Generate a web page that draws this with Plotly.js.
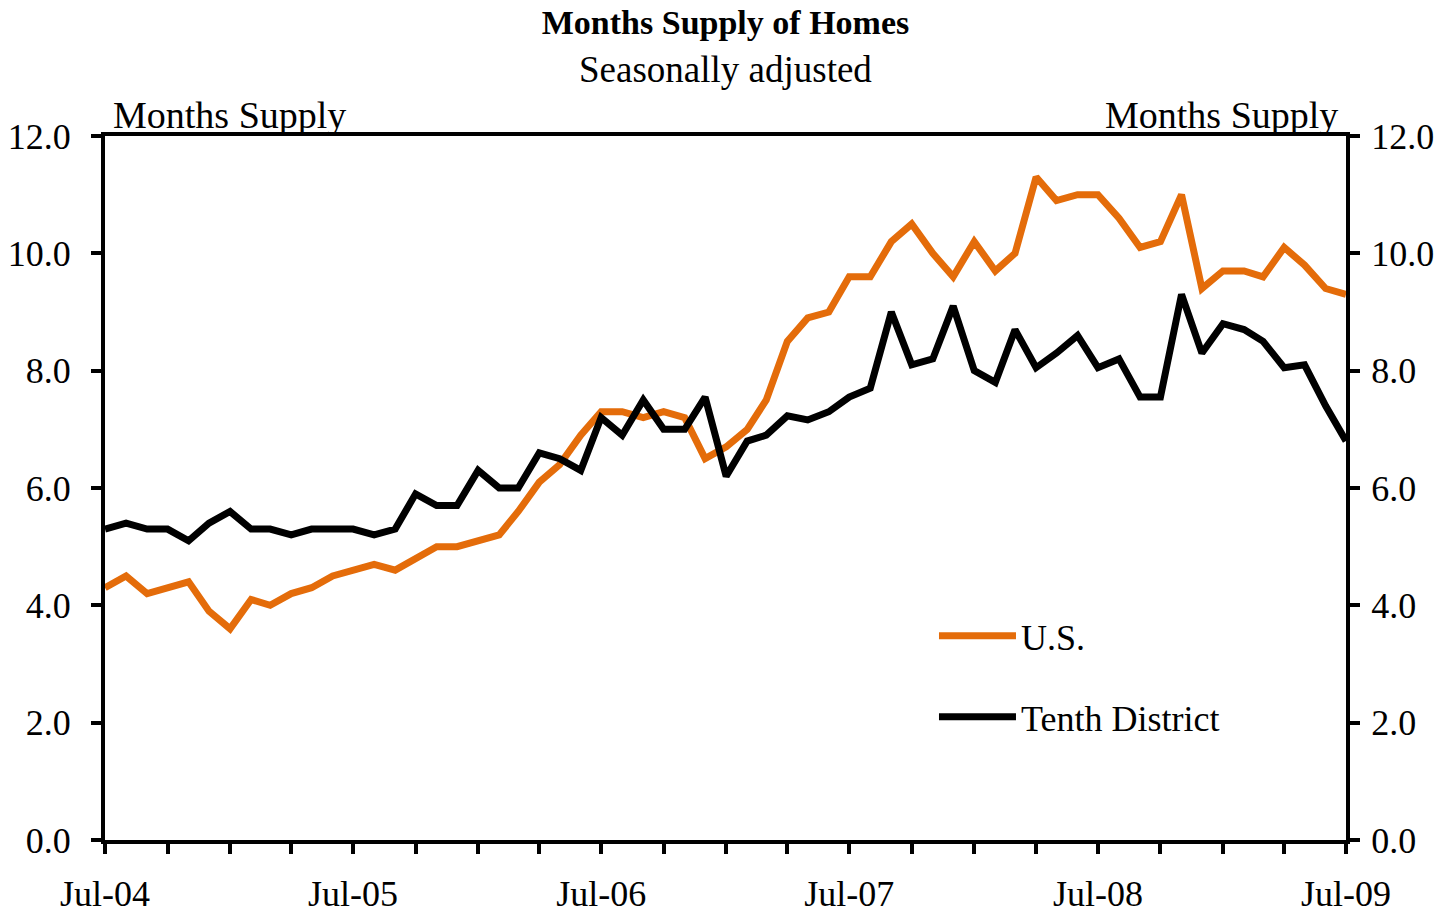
<!DOCTYPE html>
<html>
<head>
<meta charset="utf-8">
<script src="https://cdn.plot.ly/plotly-3.0.1.min.js"></script>
<style>html,body{margin:0;padding:0;background:#fff}#chart{width:1448px;height:915px}</style>
</head>
<body>
<div id="chart"></div>
<script>
// Monthly, Jul-04 .. Jul-09
const months = [];
(function(){ for (let i = 0; i <= 60; i++) { const t = 2004*12 + 6 + i; const y = Math.floor(t/12), m = t%12 + 1; months.push(y + '-' + String(m).padStart(2,'0') + '-01'); } })();

const usSupply = [4.3,4.5,4.2,4.3,4.4,3.9,3.6,4.1,4.0,4.2,4.3,4.5,4.6,4.7,4.6,4.8,5.0,5.0,5.1,5.2,5.6,6.1,6.4,6.9,7.3,7.3,7.2,7.3,7.2,6.5,6.7,7.0,7.5,8.5,8.9,9.0,9.6,9.6,10.2,10.5,10.0,9.6,10.2,9.7,10.0,11.3,10.9,11.0,11.0,10.6,10.1,10.2,11.0,9.4,9.7,9.7,9.6,10.1,9.8,9.4,9.3];
const tenthSupply = [5.3,5.4,5.3,5.3,5.1,5.4,5.6,5.3,5.3,5.2,5.3,5.3,5.3,5.2,5.3,5.9,5.7,5.7,6.3,6.0,6.0,6.6,6.5,6.3,7.2,6.9,7.5,7.0,7.0,7.55,6.2,6.8,6.9,7.23,7.16,7.3,7.55,7.7,9.0,8.1,8.2,9.1,8.0,7.8,8.7,8.05,8.3,8.6,8.05,8.2,7.55,7.55,9.3,8.3,8.8,8.7,8.5,8.05,8.1,7.4,6.8];

const seriesNames = ['U.S.', 'Tenth District'];
const titleText = 'Months Supply of Homes';
const subtitleText = 'Seasonally adjusted';
const axisLabel = 'Months Supply';

const FONT = 'Liberation Serif, Times New Roman, serif';

const traces = [
  {x: months, y: usSupply, name: seriesNames[0], type: 'scatter', mode: 'lines',
   line: {color: '#E46C0A', width: 7, shape: 'linear'}, legend: 'legend'},
  {x: months, y: tenthSupply, name: seriesNames[1], type: 'scatter', mode: 'lines',
   line: {color: '#000000', width: 7, shape: 'linear'}, legend: 'legend2'},
  {x: months, y: tenthSupply, yaxis: 'y2', type: 'scatter', mode: 'lines',
   line: {width: 0}, opacity: 0, showlegend: false, hoverinfo: 'skip'}
];

const yCommon = {
  range: [0, 12], dtick: 2, tick0: 0, tickformat: '.1f',
  showgrid: false, zeroline: false, showline: true,
  linecolor: '#000', linewidth: 4, ticks: 'outside', ticklen: 10, tickwidth: 4, tickcolor: '#000',
  tickfont: {family: FONT, size: 36, color: '#000'}, fixedrange: true
};

const layout = {
  width: 1448, height: 915,
  paper_bgcolor: '#fff', plot_bgcolor: '#fff',
  margin: {l: 105, r: 102, t: 136, b: 75, pad: 0},
  font: {family: FONT, size: 36, color: '#000'},
  title: {
    text: '<b>' + titleText + '</b>',
    font: {family: FONT, size: 34, color: '#000'},
    x: 0.5, xanchor: 'center', xref: 'paper',
    y: 1 - 22/915, yref: 'container', yanchor: 'middle'
  },
  xaxis: {
    type: 'date', range: ['2004-07-01', '2009-07-01'],
    tick0: '2004-07-01', dtick: 'M12', tickformat: '%b-%y',
    showgrid: false, zeroline: false, showline: true, mirror: true,
    linecolor: '#000', linewidth: 4, ticks: 'outside', ticklen: 10, tickwidth: 4, tickcolor: '#000',
    ticklabelstandoff: 9,
    tickfont: {family: FONT, size: 36, color: '#000'},
    minor: {dtick: 'M3', tick0: '2004-07-01', ticks: 'outside', ticklen: 10, tickwidth: 4, tickcolor: '#000', showgrid: false},
    fixedrange: true
  },
  yaxis: Object.assign({}, yCommon, {side: 'left', ticklabelstandoff: 13}),
  yaxis2: Object.assign({}, yCommon, {side: 'right', overlaying: 'y', ticklabelstandoff: 4}),
  showlegend: true,
  legend: {x: 0.668, xanchor: 'left', y: 0.29, yanchor: 'middle', bgcolor: 'rgba(0,0,0,0)', borderwidth: 0,
           font: {family: FONT, size: 36, color: '#000'}, itemwidth: 77},
  legend2: {x: 0.668, xanchor: 'left', y: 0.175, yanchor: 'middle', bgcolor: 'rgba(0,0,0,0)', borderwidth: 0,
            font: {family: FONT, size: 36, color: '#000'}, itemwidth: 77},
  annotations: [
    {text: subtitleText, xref: 'paper', yref: 'paper', x: 0.5, y: 1, xanchor: 'center', yanchor: 'middle',
     yshift: 67, showarrow: false, font: {family: FONT, size: 37, color: '#000'}},
    {text: axisLabel, xref: 'paper', yref: 'paper', x: 0, y: 1, xanchor: 'left', yanchor: 'bottom',
     xshift: 6, yshift: -2, showarrow: false, font: {family: FONT, size: 38, color: '#000'}},
    {text: axisLabel, xref: 'paper', yref: 'paper', x: 1, y: 1, xanchor: 'right', yanchor: 'bottom',
     xshift: -6, yshift: -2, showarrow: false, font: {family: FONT, size: 38, color: '#000'}}
  ]
};

Plotly.newPlot('chart', traces, layout, {displayModeBar: false, staticPlot: true});
</script>
</body>
</html>
